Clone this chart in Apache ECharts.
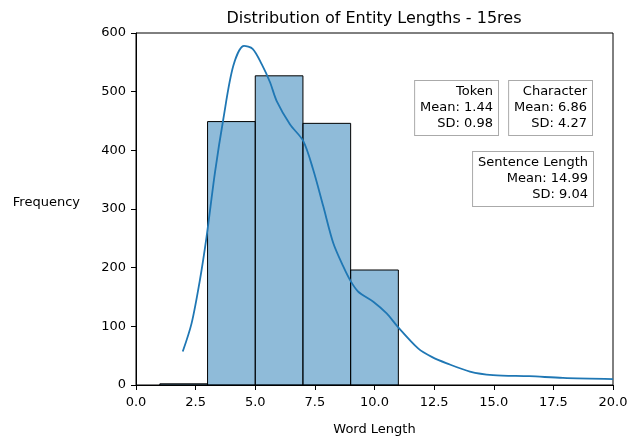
<!DOCTYPE html>
<html>
<head>
<meta charset="utf-8">
<script src="https://cdn.jsdelivr.net/npm/echarts@6/dist/echarts.min.js"></script>
<style>
html,body{margin:0;padding:0;background:#fff;overflow:hidden;}
#chart{width:627px;height:439px;}
</style>
</head>
<body>
<div id="chart"></div>
<script>
// Histogram bins (edges) and counts
const binStarts = [1, 3, 5, 7, 9];
const binEnds = [3, 5, 7, 9, 11];
const binCounts = [2, 449, 527, 446, 196];

// KDE curve (scaled to counts)
const kdeX = [1.96, 2.33, 2.68, 2.96, 3.31, 3.66, 4.08, 4.53, 4.89, 5.27, 5.62, 5.9, 6.46, 7.01, 7.43, 7.85, 8.27, 8.69, 9.0, 9.32, 9.95, 10.51, 10.96, 11.84, 12.4, 13.03, 14.0, 14.97, 16.5, 17.9, 20.0];
const kdeY = [57, 105, 179, 253, 362, 453, 544, 578, 573, 547, 516, 484, 444, 416, 367, 305, 242, 202, 177, 159, 142, 122, 100, 62, 48, 37, 23, 17, 15, 12, 10];

// Annotation boxes
const tokenLines = ["Token", "Mean: 1.44", "SD: 0.98"];
const charLines = ["Character", "Mean: 6.86", "SD: 4.27"];
const sentLines = ["Sentence Length", "Mean: 14.99", "SD: 9.04"];

const FONT = '"DejaVu Sans", sans-serif';

const histData = binStarts.map((s, i) => [s, binEnds[i], binCounts[i]]);
const kdeData = kdeX.map((x, i) => [x, kdeY[i]]);

const chart = echarts.init(document.getElementById('chart'));

function boxStyle(lines) {
  return {
    text: lines.join('\n'),
    font: '13px ' + FONT,
    fill: '#000',
    textAlign: 'right',
    lineHeight: 16,
    backgroundColor: '#fff',
    borderColor: '#aaaaaa',
    borderWidth: 1,
    padding: [3, 5, 3, 5]
  };
}

chart.setOption({
  animation: false,
  title: {
    text: 'Distribution of Entity Lengths - 15res',
    left: 369, top: 6, textAlign: 'center',
    textStyle: { fontFamily: FONT, fontSize: 16, fontWeight: 'normal', color: '#000' }
  },
  grid: { left: 136, right: 14, top: 33, bottom: 54, show: true, borderColor: '#000', borderWidth: 1, containLabel: false, outerBoundsMode: 'none' },
  xAxis: {
    type: 'value', min: 0, max: 20, interval: 2.5,
    name: 'Word Length', nameLocation: 'middle', nameGap: 38,
    nameTextStyle: { fontFamily: FONT, fontSize: 13, color: '#000' },
    axisLine: { show: true, onZero: false, lineStyle: { color: '#000', width: 1 } },
    axisTick: { show: true, inside: false, length: 5, lineStyle: { color: '#000' } },
    axisLabel: { margin: 11, fontFamily: FONT, fontSize: 13, color: '#000', formatter: v => v.toFixed(1) },
    splitLine: { show: false }
  },
  yAxis: {
    type: 'value', min: 0, max: 600, interval: 100,
    name: 'Frequency', nameLocation: 'middle', nameRotate: 0, nameGap: 56,
    nameTextStyle: { fontFamily: FONT, fontSize: 13, color: '#000', align: 'right', verticalAlign: 'bottom' },
    axisLine: { show: true, lineStyle: { color: '#000', width: 1 } },
    axisTick: { show: true, inside: false, length: 5, lineStyle: { color: '#000' } },
    axisLabel: { margin: 10, fontFamily: FONT, fontSize: 13, color: '#000' },
    splitLine: { show: false }
  },
  series: [
    {
      type: 'custom',
      data: histData,
      encode: { x: [0, 1], y: 2 },
      renderItem: function (params, api) {
        const p0 = api.coord([api.value(0), 0]);
        const p1 = api.coord([api.value(1), api.value(2)]);
        return {
          type: 'rect',
          shape: { x: p0[0], y: p1[1], width: p1[0] - p0[0], height: p0[1] - p1[1] },
          style: { fill: 'rgba(31,119,180,0.5)', stroke: '#000', lineWidth: 1 }
        };
      },
      z: 2
    },
    {
      type: 'line',
      data: kdeData,
      smooth: 0.3,
      showSymbol: false,
      lineStyle: { color: '#1f77b4', width: 1.8 },
      clip: true,
      z: 3
    }
  ],
  graphic: [
    { type: 'text', right: 128, top: 80, style: boxStyle(tokenLines), z: 10 },
    { type: 'text', right: 34, top: 80, style: boxStyle(charLines), z: 10 },
    { type: 'text', right: 33, top: 151, style: boxStyle(sentLines), z: 10 }
  ]
});
</script>
</body>
</html>
